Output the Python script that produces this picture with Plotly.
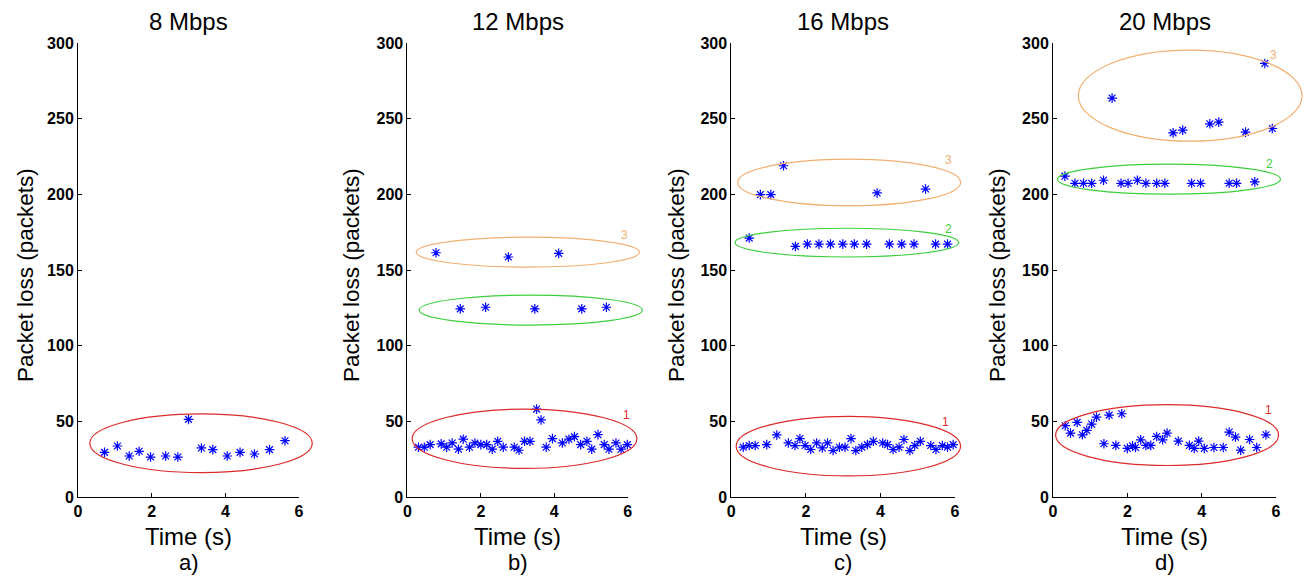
import plotly.graph_objects as go

# ---------------- data ----------------
panel_titles = ["8 Mbps", "12 Mbps", "16 Mbps", "20 Mbps"]
panel_letters = ["a)", "b)", "c)", "d)"]
x_ticks = [0, 2, 4, 6]
y_ticks = [0, 50, 100, 150, 200, 250, 300]
X_MAX = 6
Y_MAX = 300

# panel a
a1_time = [0.72, 1.07, 1.39, 1.66, 1.97, 2.38, 2.71, 3.00, 3.35, 3.66, 4.05, 4.40, 4.79, 5.20, 5.62]
a1_loss = [29.5, 33.7, 27.1, 30.2, 26.4, 27.1, 26.4, 51.3, 32.4, 31.3, 27.1, 29.5, 28.4, 31.3, 37.2]

# panel b
b1_time = [0.30, 0.46, 0.62, 0.92, 1.07, 1.22, 1.39, 1.52, 1.69, 1.84, 2.00, 2.16, 2.31, 2.46, 2.61,
           2.91, 3.04, 3.19, 3.34, 3.52, 3.64, 3.78, 3.95, 4.22, 4.40, 4.55, 4.72, 4.89, 5.02, 5.19,
           5.36, 5.49, 5.68, 5.82, 5.99]
b1_loss = [32.9, 32.9, 34.6, 35.1, 32.9, 35.7, 31.6, 38.2, 32.9, 35.7, 34.6, 34.6, 31.6, 36.8, 32.9,
           32.9, 30.9, 36.8, 36.8, 58.1, 50.9, 32.9, 38.6, 35.7, 38.2, 39.9, 34.6, 36.8, 31.6, 41.2,
           34.6, 31.6, 35.7, 31.6, 34.6]
b2_time = [1.44, 2.13, 3.47, 4.75, 5.42]
b2_loss = [124.3, 125.4, 124.3, 124.3, 125.4]
b3_time = [0.78, 2.75, 4.12]
b3_loss = [161.4, 158.6, 161.0]

# panel c
c1_time = [0.32, 0.48, 0.64, 0.95, 1.22, 1.53, 1.71, 1.84, 1.98, 2.13, 2.29, 2.44, 2.58, 2.73, 2.90,
           3.05, 3.21, 3.34, 3.50, 3.65, 3.81, 4.06, 4.19, 4.34, 4.50, 4.63, 4.79, 4.92, 5.07, 5.35,
           5.49, 5.66, 5.80, 5.95]
c1_loss = [32.9, 34.0, 34.0, 34.6, 41.0, 35.7, 34.0, 38.6, 34.0, 31.4, 35.7, 32.4, 35.7, 30.7, 32.9,
           32.9, 38.6, 30.7, 32.9, 34.6, 36.8, 35.7, 34.6, 31.4, 32.9, 38.0, 30.7, 34.0, 36.8, 34.0,
           31.4, 34.0, 32.9, 34.6]
c2_time = [0.48, 1.72, 2.04, 2.35, 2.66, 2.99, 3.30, 3.63, 4.24, 4.57, 4.90, 5.48, 5.80]
c2_loss = [171.1, 165.6, 167.1, 167.1, 167.1, 167.1, 167.1, 167.1, 167.1, 167.1, 167.1, 167.1, 167.1]
c3_time = [0.78, 1.06, 1.40, 3.91, 5.21]
c3_loss = [199.8, 199.8, 218.9, 200.9, 203.5]

# panel d
d1_time = [0.33, 0.47, 0.65, 0.79, 0.91, 1.04, 1.17, 1.37, 1.51, 1.69, 1.85, 2.00, 2.14, 2.22, 2.36,
           2.50, 2.63, 2.79, 2.95, 3.07, 3.37, 3.67, 3.80, 3.92, 4.07, 4.33, 4.58, 4.74, 4.91, 5.05,
           5.29, 5.48, 5.73]
d1_loss = [47.1, 42.2, 49.3, 41.1, 44.0, 48.2, 52.8, 35.2, 54.1, 34.1, 55.0, 32.1, 33.8, 32.7, 37.8,
           34.1, 34.1, 40.0, 37.8, 42.2, 36.9, 34.1, 32.1, 36.9, 32.1, 32.7, 32.7, 42.9, 39.6, 31.0,
           38.0, 32.7, 41.1]
d2_time = [0.32, 0.59, 0.82, 1.04, 1.36, 1.83, 2.02, 2.27, 2.50, 2.79, 3.01, 3.73, 3.97, 4.74, 4.94, 5.43]
d2_loss = [212.0, 207.3, 207.3, 207.3, 209.3, 207.3, 207.3, 209.3, 207.3, 207.3, 207.3, 207.3, 207.3,
           207.3, 207.3, 208.2]
d3_time = [1.59, 3.23, 3.49, 4.22, 4.46, 5.18, 5.70, 5.90]
d3_loss = [263.6, 240.6, 242.4, 246.6, 247.7, 241.1, 286.5, 243.5]

# cluster ellipses: panel index, cluster id, center/radius in data units, label position
ell_panel = [0, 1, 1, 1, 2, 2, 2, 3, 3, 3]
ell_id = ["1", "1", "2", "3", "1", "2", "3", "1", "2", "3"]
ell_cx = [3.34, 3.19, 3.36, 3.28, 3.14, 3.10, 3.16, 3.07, 3.12, 3.69]
ell_rx = [3.02, 3.06, 3.04, 3.04, 3.01, 3.00, 2.99, 3.00, 3.00, 3.01]
ell_cy = [35.5, 38.5, 123.5, 161.8, 33.6, 168.1, 207.9, 40.9, 210.0, 265.2]
ell_ry = [19.4, 19.6, 9.9, 9.9, 19.7, 9.5, 15.4, 20.1, 9.9, 30.1]
lab_t = [6.11, 5.96, 6.11, 5.91, 5.74, 5.83, 5.83, 5.80, 5.83, 5.93]
lab_v = [52.7, 54.4, 133.8, 173.2, 49.3, 176.8, 222.8, 57.2, 219.9, 292.0]

# ---------------- styling ----------------
W, H = 1307, 576
FONT = "Liberation Sans, Arial, sans-serif"
cluster_colors = {"1": "#DD2A2A", "2": "#3CCF3C", "3": "#F2B070"}
panel_px = [(78.0, 299.0), (407.4, 627.7), (731.3, 955.0), (1053.0, 1276.0)]
ytitle_px = [25, 351, 676, 997]
plot_top, plot_bottom = 43.0, 497.0

panel_series = [
    [(a1_time, a1_loss)],
    [(b1_time, b1_loss), (b2_time, b2_loss), (b3_time, b3_loss)],
    [(c1_time, c1_loss), (c2_time, c2_loss), (c3_time, c3_loss)],
    [(d1_time, d1_loss), (d2_time, d2_loss), (d3_time, d3_loss)],
]

fig = go.Figure()
ydom = [1 - plot_bottom / H, 1 - plot_top / H]
annotations = []
shapes = []

for i in range(4):
    suffix = "" if i == 0 else str(i + 1)
    xname, yname = "x" + suffix, "y" + suffix
    xd = [panel_px[i][0] / W, panel_px[i][1] / W]
    axis_common = dict(
        showline=True, linecolor="black", linewidth=1, mirror=False,
        ticks="inside", ticklen=4, tickcolor="black", tickwidth=1,
        showgrid=False, zeroline=False, automargin=False,
        tickfont=dict(family=FONT, size=16, color="black", weight="bold"),
    )
    fig.update_layout(**{
        "xaxis" + suffix: dict(domain=xd, range=[0, X_MAX], tickvals=x_ticks,
                               anchor=yname, **axis_common),
        "yaxis" + suffix: dict(domain=ydom, range=[0, Y_MAX], tickvals=y_ticks,
                               anchor=xname, **axis_common),
    })
    for t, v in panel_series[i]:
        fig.add_trace(go.Scatter(
            x=t, y=v, mode="markers", xaxis=xname, yaxis=yname, cliponaxis=False,
            showlegend=False, hoverinfo="skip",
            marker=dict(symbol="asterisk-open", size=8, color="#0000FF",
                        line=dict(width=1.2, color="#0000FF")),
        ))
    xc = (xd[0] + xd[1]) / 2
    annotations.append(dict(text=panel_titles[i], x=xc, y=1 - 21 / H, xref="paper", yref="paper",
                            showarrow=False, xanchor="center", yanchor="middle",
                            font=dict(family=FONT, size=24, color="black")))
    annotations.append(dict(text="Time (s)", x=xc, y=1 - 536 / H, xref="paper", yref="paper",
                            showarrow=False, xanchor="center", yanchor="middle",
                            font=dict(family=FONT, size=24, color="black")))
    annotations.append(dict(text=panel_letters[i], x=xc, y=1 - 562 / H, xref="paper", yref="paper",
                            showarrow=False, xanchor="center", yanchor="middle",
                            font=dict(family=FONT, size=22, color="black")))
    annotations.append(dict(text="Packet loss (packets)", x=ytitle_px[i] / W,
                            y=1 - 275 / H, xref="paper", yref="paper", textangle=-90,
                            showarrow=False, xanchor="center", yanchor="middle",
                            font=dict(family=FONT, size=22.5, color="black")))

for k in range(len(ell_panel)):
    i = ell_panel[k]
    suffix = "" if i == 0 else str(i + 1)
    col = cluster_colors[ell_id[k]]
    shapes.append(dict(
        type="circle", xref="x" + suffix + " domain", yref="y" + suffix + " domain",
        x0=(ell_cx[k] - ell_rx[k]) / X_MAX, x1=(ell_cx[k] + ell_rx[k]) / X_MAX,
        y0=(ell_cy[k] - ell_ry[k]) / Y_MAX, y1=(ell_cy[k] + ell_ry[k]) / Y_MAX,
        line=dict(color=col, width=1.2), layer="above",
    ))
    annotations.append(dict(text=ell_id[k], x=lab_t[k], y=lab_v[k],
                            xref="x" + suffix, yref="y" + suffix, showarrow=False,
                            xanchor="center", yanchor="middle",
                            font=dict(family=FONT, size=12, color=col)))

fig.update_layout(
    template="none",
    width=W, height=H, autosize=False,
    margin=dict(l=0, r=0, t=0, b=0, pad=0),
    paper_bgcolor="white", plot_bgcolor="white",
    annotations=annotations, shapes=shapes,
)

fig.write_html("out.html", config={"displayModeBar": False},
               post_script="document.body.style.margin='0px';document.body.style.overflow='hidden';")
